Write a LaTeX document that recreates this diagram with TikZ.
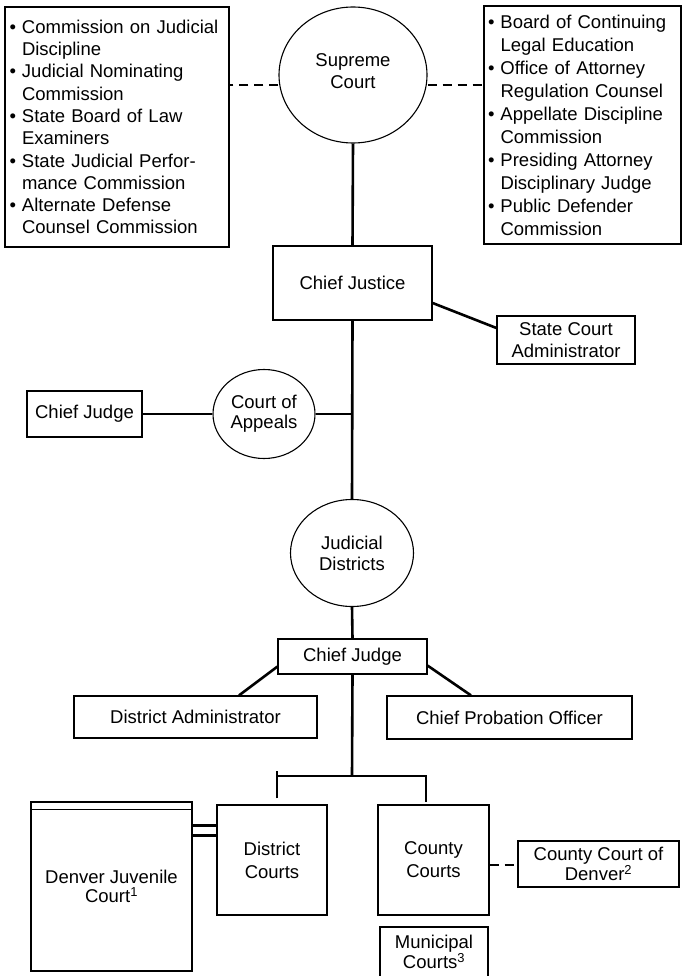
\documentclass[tikz,border=0pt]{standalone}
\usepackage{fontspec}
\setmainfont{Liberation Sans}
\usetikzlibrary{shapes.geometric}
\newcommand\bul{\makebox[12.5pt][l]{•}}
\newcommand\ind{\hspace*{12.5pt}}
\begin{document}
\begin{tikzpicture}[x=1pt,y=-1pt,
  every node/.style={font=\fontsize{18.5}{22}\selectfont, inner sep=0pt, align=center},
  box/.style={draw, line width=1.2pt, rectangle},
  oval/.style={draw, line width=1.1pt, ellipse},
  conn/.style={line width=2.6pt},
  dconn/.style={line width=2.6pt, dash pattern=on 9pt off 6pt}]
\fill[white] (0,0) rectangle (686,976);
\useasboundingbox (0,0) rectangle (686,976);

% top row
\node[box, minimum width=224pt, minimum height=240pt, text width=215pt, inner xsep=4.5pt, align=left,
  font=\fontsize{18.5}{22.3}\selectfont] (lbox) at (117,127) {%
\bul Commission on Judicial\\
\ind Discipline\\
\bul Judicial Nominating\\
\ind Commission\\
\bul State Board of Law\\
\ind Examiners\\
\bul State Judicial Perfor-\\
\ind mance Commission\\
\bul Alternate Defense\\
\ind Counsel Commission};

\node[box, minimum width=197pt, minimum height=238pt, text width=189pt, inner xsep=4pt, align=left,
  font=\fontsize{18.5}{23}\selectfont] (rbox) at (582.5,125) {%
\bul Board of Continuing\\
\ind Legal Education\\
\bul Office of Attorney\\
\ind Regulation Counsel\\
\bul Appellate Discipline\\
\ind Commission\\
\bul Presiding Attorney\\
\ind Disciplinary Judge\\
\bul Public Defender\\
\ind Commission};

\node[oval, minimum width=148pt, minimum height=136pt] (sc) at (353,75) {Supreme\\Court\\[-14pt]};

\node[box, minimum width=159pt, minimum height=74pt] (cj) at (352.5,283) {Chief Justice};
\node[box, minimum width=138pt, minimum height=48pt] (sca) at (566,340) {State Court\\Administrator};

\node[box, minimum width=115pt, minimum height=46pt] (cjl) at (84.5,414) {Chief Judge};
\node[oval, minimum width=102pt, minimum height=89pt, font=\fontsize{18.5}{20}\selectfont] (coa) at (264,414) {Court of\\Appeals};

\node[oval, minimum width=123pt, minimum height=107pt, font=\fontsize{18.5}{21}\selectfont] (jd) at (352,553) {Judicial\\Districts};

\node[box, minimum width=149pt, minimum height=35pt] (cjm) at (352.5,656.5) {Chief Judge};
\node[box, minimum width=243pt, minimum height=42pt] (da) at (195.5,717) {District Administrator};
\node[box, minimum width=245pt, minimum height=43pt] (cpo) at (509.5,717.5) {Chief Probation Officer};

\node[box, minimum width=110pt, minimum height=110pt, font=\fontsize{18.5}{23}\selectfont] (dc) at (272,860) {District\\Courts};
\node[box, minimum width=111pt, minimum height=110pt, font=\fontsize{18.5}{23}\selectfont] (cc) at (433.5,860) {County\\Courts};
\node[box, minimum width=161pt, minimum height=46pt, font=\fontsize{18.5}{19.5}\selectfont] (ccd) at (598.5,864) {County Court of\\Denver\textsuperscript{2}};
\node[box, minimum width=108pt, minimum height=50pt, font=\fontsize{18.5}{19}\selectfont] (mc) at (434,952) {Municipal\\Courts\textsuperscript{3}};
\node[box, minimum width=161pt, minimum height=169pt, font=\fontsize{18.5}{19.5}\selectfont] (dj) at (111.5,886.5) {Denver Juvenile\\Court\textsuperscript{1}};
\draw[line width=1.2pt] ([yshift=-8pt]dj.north west) -- ([yshift=-8pt]dj.north east);

% connectors
\draw[dconn] ([yshift=-10pt]sc.west) -- ([yshift=-10pt]sc.west -| lbox.east);
\draw[dconn] ([yshift=-10pt]sc.east) -- ([yshift=-10pt]sc.east -| rbox.west);
\draw[conn] (sc.south) -- (cj.north);
\draw[conn] ([yshift=-20pt]cj.east) -- ([yshift=12pt]sca.west);
\draw[conn] (cj.south) -- (jd.north);
\draw[conn] (cjl.east) -- (coa.west);
\draw[conn] (coa.east) -- (coa.east -| cj.south);
\draw[conn] (jd.south) -- (cjm.north);
\draw[conn] ([yshift=8pt]cjm.south west) -- ([xshift=43.5pt]da.north);
\draw[conn] ([yshift=9pt]cjm.south east) -- ([xshift=-38.5pt]cpo.north);
\coordinate (br) at (352,776);
\draw[conn] (cjm.south) -- (br);
\draw[conn] ([xshift=5pt,yshift=6pt]dc.north) -- ([xshift=5pt]dc.north |- br) -- ([xshift=-7.5pt]cc.north |- br) -- ([xshift=-7.5pt,yshift=2pt]cc.north);
\draw[conn] ([xshift=5pt]dc.north |- br) -- ++(0,-5);
\draw[conn] ([yshift=-24pt]dj.north east) -- ([yshift=-24pt]dj.north east -| dc.west);
\draw[conn] ([yshift=-34pt]dj.north east) -- ([yshift=-34pt]dj.north east -| dc.west);
\draw[dconn] ([yshift=-5pt]cc.east) -- ([yshift=-5pt]cc.east -| ccd.west);
\end{tikzpicture}
\end{document}
